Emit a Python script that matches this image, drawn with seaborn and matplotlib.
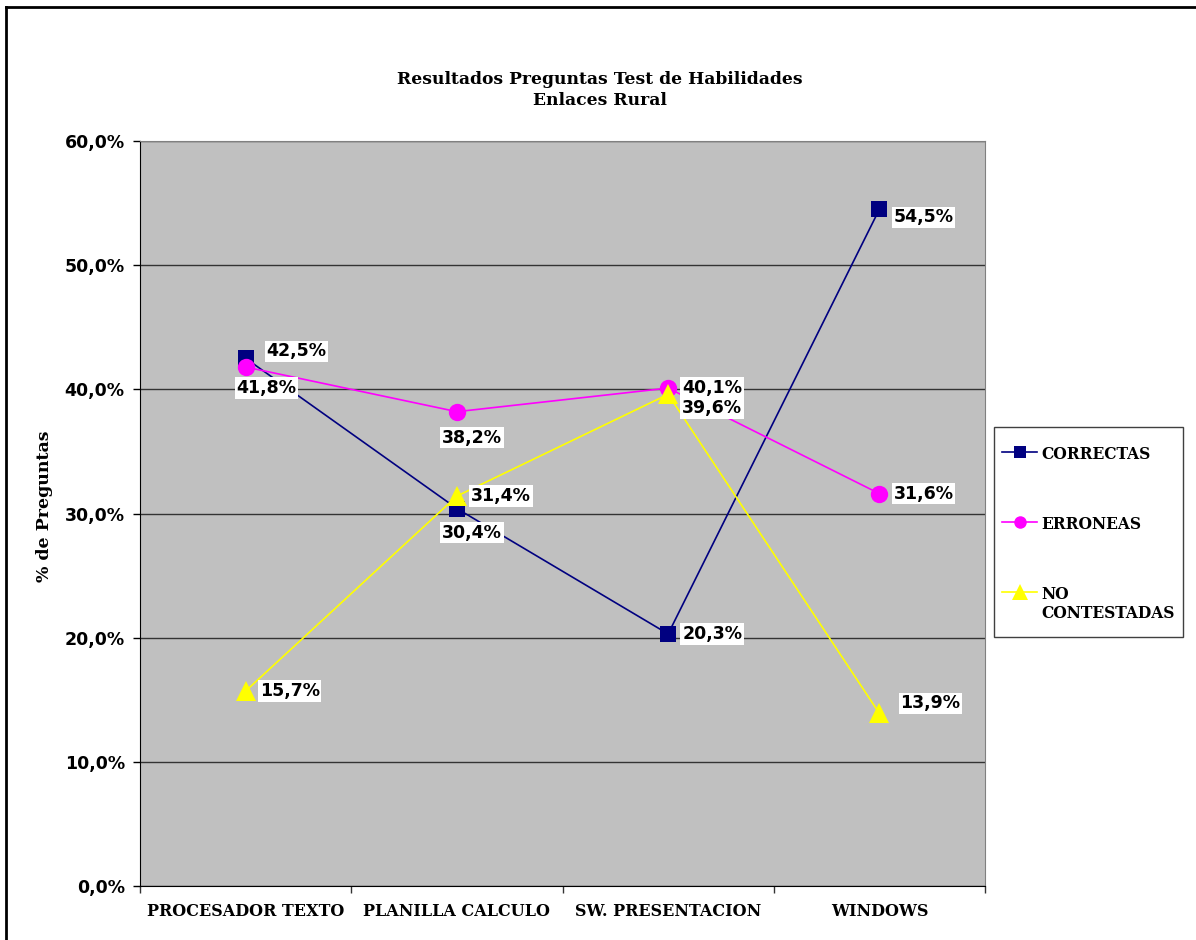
# Resultados Preguntas Test de Habilidades - Enlaces Rural

import numpy as np
import pandas as pd
import seaborn as sns
import matplotlib.pyplot as plt
from matplotlib.lines import Line2D
from matplotlib.patches import Rectangle
from matplotlib.ticker import FuncFormatter, FixedLocator

# data
categorias = ["PROCESADOR TEXTO", "PLANILLA CALCULO", "SW. PRESENTACION", "WINDOWS"]
series = ["CORRECTAS", "ERRONEAS", "NO CONTESTADAS"]
correctas = [42.5, 30.4, 20.3, 54.5]
erroneas = [41.8, 38.2, 40.1, 31.6]
no_contestadas = [15.7, 31.4, 39.6, 13.9]

# long-form table
df = pd.DataFrame({
    "Categoria": categorias * 3,
    "Serie": np.repeat(series, len(categorias)),
    "Valor": correctas + erroneas + no_contestadas,
})
df["pos"] = np.tile(np.arange(len(categorias)), len(series))

colores = {"CORRECTAS": "#000080", "ERRONEAS": "#FF00FF", "NO CONTESTADAS": "#FFFF00"}
marcadores = {"CORRECTAS": "s", "ERRONEAS": "o", "NO CONTESTADAS": "^"}
tamanos = {"CORRECTAS": 11, "ERRONEAS": 12.5, "NO CONTESTADAS": 15}
tamanos_leyenda = {"CORRECTAS": 8, "ERRONEAS": 9, "NO CONTESTADAS": 11}

# label offsets in pixels (x, y up)
offsets = {
    "CORRECTAS": [(51, 7), (15, -24), (44, 0), (44, -8)],
    "ERRONEAS": [(21, -21), (15, -26), (44, 0), (44, 0)],
    "NO CONTESTADAS": [(44, 0), (44, 0), (44, -14), (51, 10)],
}

serif = ["DejaVu Serif"]
sans = ["DejaVu Sans"]

fig = plt.figure(figsize=(11.96, 9.40), dpi=100)
ax = fig.add_axes([140 / 1196, 1 - 886 / 940, 845 / 1196, 745 / 940])
ax.set_facecolor("#C0C0C0")

for serie in series:
    sub = df[df["Serie"] == serie]
    sns.lineplot(data=sub, x="pos", y="Valor", color=colores[serie], marker=marcadores[serie],
                 markersize=tamanos[serie], markeredgewidth=0, linewidth=1.2, sort=False,
                 ax=ax, label=serie, zorder=3)
    for (_, fila), off in zip(sub.iterrows(), offsets[serie]):
        ax.annotate(f"{fila['Valor']:.1f}%".replace(".", ","), (fila["pos"], fila["Valor"]),
                    xytext=off, textcoords="offset pixels", ha="center", va="center",
                    fontsize=12.5, fontweight="bold", family=sans, zorder=5,
                    bbox=dict(boxstyle="square,pad=0.1", fc="white", ec="none"))

# axes
ax.set_xlim(-0.5, len(categorias) - 0.5)
ax.set_ylim(0, 60)
ax.set_yticks(np.arange(0, 61, 10))
ax.yaxis.set_major_formatter(FuncFormatter(lambda v, p: f"{v:.1f}%".replace(".", ",")))
ax.set_xticks(np.arange(len(categorias)))
ax.set_xticklabels(categorias, fontsize=11.5, fontweight="bold", family=serif)
ax.xaxis.set_minor_locator(FixedLocator(np.arange(-0.5, len(categorias), 1)))
ax.tick_params(axis="x", which="major", length=0, pad=12)
ax.tick_params(axis="x", which="minor", length=5, width=1, direction="out", color="#333333")
ax.tick_params(axis="y", length=5, width=1, direction="out", pad=6, labelsize=12.5)
for lab in ax.get_yticklabels():
    lab.set_fontweight("bold")
    lab.set_family(sans)

ax.grid(axis="y", color="#333333", linewidth=1)
ax.set_axisbelow(True)
ax.spines["left"].set_color("black")
ax.spines["bottom"].set_color("black")
ax.spines["top"].set_color("#808080")
ax.spines["right"].set_color("#808080")

ax.set_xlabel("")
ax.set_ylabel("% de Preguntas", fontsize=12.5, fontweight="bold", family=serif)
ax.yaxis.set_label_coords(-87 / 845, 0.51)

# title
fig.text(600 / 1196, 1 - 90 / 940, "Resultados Preguntas Test de Habilidades\nEnlaces Rural",
         ha="center", va="center", fontsize=12.3, fontweight="bold", family=serif, linespacing=1.3)

# legend (frame drawn separately)
ax.get_legend().remove()
handles, labels = ax.get_legend_handles_labels()
labels = ["NO\nCONTESTADAS" if l == "NO CONTESTADAS" else l for l in labels]
fig.add_artist(Rectangle((994 / 1196, 1 - 637 / 940), 189 / 1196, 210 / 940,
                         transform=fig.transFigure, fc="white", ec="#404040", lw=1))
leg = fig.legend(handles, labels, loc="upper left", bbox_to_anchor=(1002 / 1196, 1 - 446 / 940),
                 borderaxespad=0, frameon=False, borderpad=0,
                 prop={"family": serif, "weight": "bold", "size": 11.2},
                 handlelength=2.25, handletextpad=0.25, labelspacing=3.4,
                 handleheight=1.1)
for h, serie in zip(leg.legend_handles, series):
    h.set_markersize(tamanos_leyenda[serie])
for col in leg._legend_handle_box.get_children():
    for row in col.get_children():
        row.align = "top"

# page frame lines
fig.add_artist(Line2D([6 / 1196, 6 / 1196], [0, 1 - 7 / 940], transform=fig.transFigure,
                      color="black", linewidth=2))
fig.add_artist(Line2D([6 / 1196, 1], [1 - 7 / 940, 1 - 7 / 940], transform=fig.transFigure,
                      color="black", linewidth=2))

fig.savefig("out.png", dpi=100)
